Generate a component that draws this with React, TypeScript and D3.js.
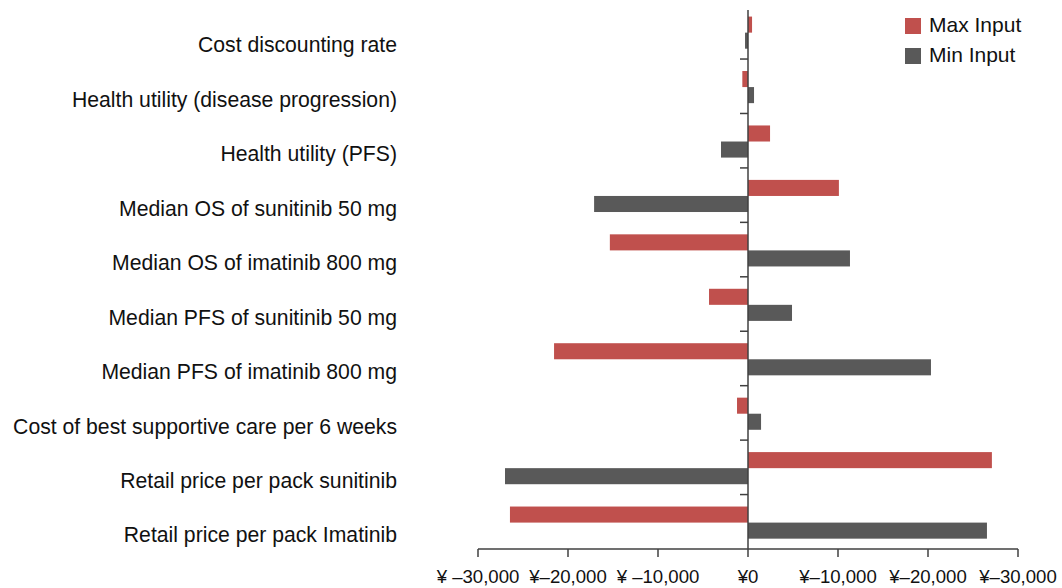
import React from "react";
import * as d3 from "d3";

const categories = [
  "Cost discounting rate",
  "Health utility (disease progression)",
  "Health utility (PFS)",
  "Median OS of sunitinib 50 mg",
  "Median OS of imatinib 800 mg",
  "Median PFS of sunitinib 50 mg",
  "Median PFS of imatinib 800 mg",
  "Cost of best supportive care per 6 weeks",
  "Retail price per pack sunitinib",
  "Retail price per pack Imatinib",
];

const maxInput = [450, -630, 2450, 10100, -15350, -4330, -21550, -1220, 27100, -26450];
const minInput = [-330, 670, -3000, -17100, 11330, 4890, 20330, 1450, -27000, 26550];

const tickValues = [-30000, -20000, -10000, 0, 10000, 20000, 30000];
const tickLabels = ["¥ –30,000", "¥–20,000", "¥ –10,000", "¥0", "¥–10,000", "¥–20,000", "¥–30,000"];

const seriesNames = ["Max Input", "Min Input"];
const colors = ["#C0504D", "#595959"];

export default function App() {
  const W = 1062;
  const H = 588;
  const x = d3.scaleLinear().domain([-30000, 30000]).range([478, 1018]);
  const y = d3.scaleBand<string>().domain(categories).range([4.6, 549]).paddingInner(0).paddingOuter(0);
  const bw = y.bandwidth();
  const barH = bw * 0.295;
  const off = bw * 0.22;
  const axisColor = "#404040";
  const font = "'Liberation Sans', Arial, sans-serif";
  const x0 = x(0);

  return (
    <svg width={W} height={H} style={{ position: "absolute", left: 0, top: 0, background: "#fff" }} fontFamily={font}>
      {categories.map((c, i) => {
        const b = y(c)!;
        const v1 = maxInput[i];
        const v2 = minInput[i];
        return (
          <g key={c}>
            <rect x={Math.min(x(v1), x0)} y={b + off} width={Math.abs(x(v1) - x0)} height={barH} fill={colors[0]} />
            <rect x={Math.min(x(v2), x0)} y={b + off + barH} width={Math.abs(x(v2) - x0)} height={barH} fill={colors[1]} />
            <text x={397} y={b + bw * 0.74 + 2} textAnchor="end" dominantBaseline="middle" fontSize={21.2} fill="#111">
              {c}
            </text>
          </g>
        );
      })}
      {categories.slice(1).map((c) => (
        <line key={"t" + c} x1={x0 - 8} x2={x0} y1={y(c)!} y2={y(c)!} stroke={axisColor} strokeWidth={1.5} />
      ))}
      <line x1={x0} x2={x0} y1={10} y2={549} stroke={axisColor} strokeWidth={1.5} />
      <line x1={x(-30000)} x2={x(30000)} y1={549} y2={549} stroke={axisColor} strokeWidth={1.5} />
      {tickValues.map((t, i) => (
        <g key={"x" + t}>
          <line x1={x(t)} x2={x(t)} y1={549} y2={557} stroke={axisColor} strokeWidth={1.5} />
          <text x={x(t)} y={578} textAnchor="middle" dominantBaseline="middle" fontSize={18.6} fill="#111">
            {tickLabels[i]}
          </text>
        </g>
      ))}
      {seriesNames.map((s, i) => (
        <g key={s}>
          <rect x={905} y={18 + i * 30} width={16} height={16} fill={colors[i]} />
          <text x={929} y={26 + i * 30} dominantBaseline="middle" fontSize={21} fill="#111">
            {s}
          </text>
        </g>
      ))}
    </svg>
  );
}
